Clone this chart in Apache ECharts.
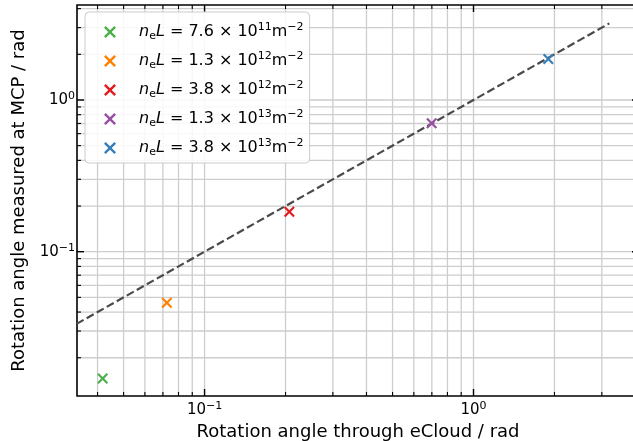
<!DOCTYPE html>
<html>
<head>
<meta charset="utf-8">
<script src="https://cdn.jsdelivr.net/npm/echarts@6/dist/echarts.min.js"></script>
<style>
  html, body { margin: 0; padding: 0; background: #fff; }
  #chart { width: 633px; height: 441px; }
</style>
</head>
<body>
<div id="chart"></div>
<script>
// Measured rotation angle vs. rotation angle through the electron cloud
const densityMantissa = ['7.6', '1.3', '3.8', '1.3', '3.8'];
const densityExponent = ['11', '12', '12', '13', '13'];
const seriesColors = ['#4daf4a', '#ff7f00', '#e41a1c', '#984ea3', '#377eb8'];
const angleThroughCloud = [0.0418, 0.0724, 0.2066, 0.699, 1.897];
const angleAtMCP = [0.0146, 0.0461, 0.1835, 0.702, 1.864];

// unity reference line (measured = expected)
const unityX = [0.02, 3.2];
const unityY = [0.02, 3.2];

// tick values for both log axes
const xMajorTicks = [0.1, 1];
const xMinorTicks = [0.04, 0.05, 0.06, 0.07, 0.08, 0.09, 0.2, 0.3, 0.4, 0.5, 0.6, 0.7, 0.8, 0.9, 2, 3, 4];
const yMajorTicks = [0.1, 1];
const yMinorTicks = [0.02, 0.03, 0.04, 0.05, 0.06, 0.07, 0.08, 0.09, 0.2, 0.3, 0.4, 0.5, 0.6, 0.7, 0.8, 0.9, 2, 3, 4];

const FONT = 'DejaVu Sans';
const CROSS = 'path://M0,1.4L1.4,0L5,3.6L8.6,0L10,1.4L6.4,5L10,8.6L8.6,10L5,6.4L1.4,10L0,8.6L3.6,5Z';

function legendName(i) {
  return 'n_eL ' + densityMantissa[i] + 'e' + densityExponent[i];
}

function powerLabel(v) {
  const e = Math.log10(v);
  const r = Math.round(e);
  if (Math.abs(e - r) > 1e-6) return '';
  const exp = r < 0 ? '\u2212' + (-r) : String(r);
  return '{n|10}{sup|' + exp + '}';
}

const tickRich = {
  n: { fontFamily: FONT, fontSize: 15, color: '#000', lineHeight: 19 },
  sup: { fontFamily: FONT, fontSize: 11, color: '#000', lineHeight: 12, verticalAlign: 'top' }
};

// tick / grid items: [x, y, kind (0 = x axis, 1 = y axis), major]
const tickData = [];
xMajorTicks.forEach(v => tickData.push([v, 1, 0, 1]));
xMinorTicks.forEach(v => tickData.push([v, 1, 0, 0]));
yMajorTicks.forEach(v => tickData.push([1, v, 1, 1]));
yMinorTicks.forEach(v => tickData.push([1, v, 1, 0]));

function renderTick(params, api) {
  const cs = params.coordSys;
  const kind = api.value(2);
  const major = api.value(3) === 1;
  const len = major ? 7 : 4;
  const lw = major ? 1.4 : 1.1;
  const left = cs.x, right = cs.x + cs.width, top = cs.y, bottom = cs.y + cs.height;
  const children = [];
  if (kind === 0) {
    const px = api.coord([api.value(0), 1])[0];
    children.push({ type: 'line', shape: { x1: px, y1: top + 1, x2: px, y2: bottom - 1 }, style: { stroke: '#cdcdcd', lineWidth: 1.3 }, z2: 0 });
    children.push({ type: 'line', shape: { x1: px, y1: bottom, x2: px, y2: bottom - len }, style: { stroke: '#000', lineWidth: lw }, z2: 5 });
    children.push({ type: 'line', shape: { x1: px, y1: top, x2: px, y2: top + len }, style: { stroke: '#000', lineWidth: lw }, z2: 5 });
  } else {
    const py = api.coord([1, api.value(1)])[1];
    children.push({ type: 'line', shape: { x1: left + 1, y1: py, x2: right - 1, y2: py }, style: { stroke: '#cdcdcd', lineWidth: 1.3 }, z2: 0 });
    children.push({ type: 'line', shape: { x1: left, y1: py, x2: left + len, y2: py }, style: { stroke: '#000', lineWidth: lw }, z2: 5 });
    children.push({ type: 'line', shape: { x1: right, y1: py, x2: right - len, y2: py }, style: { stroke: '#000', lineWidth: lw }, z2: 5 });
  }
  return { type: 'group', children: children };
}

const scatterSeries = angleThroughCloud.map((x, i) => ({
  name: legendName(i),
  type: 'scatter',
  symbol: CROSS,
  symbolSize: 11,
  itemStyle: { color: seriesColors[i], opacity: 1 },
  data: [[x, angleAtMCP[i]]],
  z: 4
}));

const chart = echarts.init(document.getElementById('chart'), null, { renderer: 'canvas' });

chart.setOption({
  animation: false,
  backgroundColor: '#fff',
  textStyle: { fontFamily: FONT },
  grid: {
    left: 77, right: -6, top: 5, bottom: 45,
    show: true, borderColor: '#000', borderWidth: 1.6, backgroundColor: 'transparent',
    containLabel: false, outerBoundsMode: 'none'
  },
  xAxis: {
    type: 'log', logBase: 10, min: 0.03355, max: 4.124,
    name: 'Rotation angle through eCloud / rad',
    nameLocation: 'middle', nameGap: 20,
    nameTextStyle: { fontFamily: FONT, fontSize: 18, color: '#000' },
    axisLine: { show: false },
    axisTick: { show: false },
    splitLine: { show: false },
    minorTick: { show: false },
    axisLabel: { margin: 5, formatter: powerLabel, rich: tickRich, showMinLabel: false, showMaxLabel: false }
  },
  yAxis: {
    type: 'log', logBase: 10, min: 0.01119, max: 4.228,
    name: 'Rotation angle measured at MCP / rad',
    nameLocation: 'middle', nameGap: 47,
    nameTextStyle: { fontFamily: FONT, fontSize: 18, color: '#000' },
    axisLine: { show: false },
    axisTick: { show: false },
    splitLine: { show: false },
    minorTick: { show: false },
    axisLabel: { margin: 2, formatter: powerLabel, rich: tickRich, showMinLabel: false, showMaxLabel: false }
  },
  legend: {
    orient: 'vertical',
    left: 85, top: 12,
    padding: [10, 6, 5, 19],
    itemGap: 9,
    itemWidth: 12, itemHeight: 12,
    backgroundColor: 'rgba(255,255,255,0.85)',
    borderColor: '#cccccc', borderWidth: 1, borderRadius: 4,
    data: angleThroughCloud.map((_, i) => ({ name: legendName(i), icon: CROSS, itemStyle: { opacity: 1 } })),
    formatter: function (name) {
      const i = angleThroughCloud.findIndex((_, k) => legendName(k) === name);
      return '{pad|}{it|n}{sub|e}{it|L}{n| = ' + densityMantissa[i] + ' \u00d7 10}{sup|' +
        densityExponent[i] + '}{n|m}{sup|\u22122}';
    },
    textStyle: {
      fontFamily: FONT, fontSize: 16, color: '#000',
      rich: {
        pad: { width: 18, lineHeight: 20 },
        n: { fontFamily: FONT, fontSize: 16, color: '#000', lineHeight: 20 },
        it: { fontFamily: FONT, fontSize: 16, fontStyle: 'italic', color: '#000', lineHeight: 20 },
        sub: { fontFamily: FONT, fontSize: 11, color: '#000', lineHeight: 12, verticalAlign: 'bottom' },
        sup: { fontFamily: FONT, fontSize: 11, color: '#000', lineHeight: 12, verticalAlign: 'top' }
      }
    }
  },
  series: [
    {
      type: 'custom',
      silent: true,
      renderItem: renderTick,
      data: tickData,
      encode: { x: 0, y: 1 },
      z: 1
    },
    {
      type: 'line',
      silent: true,
      data: unityX.map((x, i) => [x, unityY[i]]),
      showSymbol: false,
      symbol: 'none',
      lineStyle: { color: '#4a4a4a', width: 2.2, type: [8, 3.5] },
      z: 3
    }
  ].concat(scatterSeries)
});
</script>
</body>
</html>
